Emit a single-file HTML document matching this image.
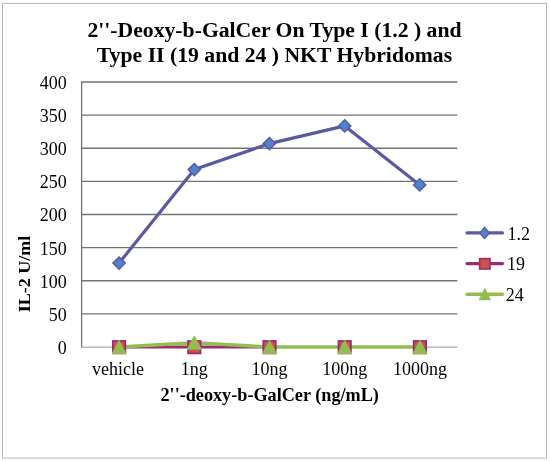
<!DOCTYPE html>
<html><head><meta charset="utf-8"><style>
html,body{margin:0;padding:0;background:#fff;width:550px;height:461px;overflow:hidden}
svg{display:block;will-change:transform}
text{font-family:"Liberation Serif",serif;fill:#000}
.t{font-weight:bold;font-size:21.7px}
.l{font-size:18px}
.a{font-weight:bold;font-size:18px}
</style></head><body>
<svg width="550" height="461" viewBox="0 0 550 461">
<rect x="0" y="0" width="550" height="461" fill="#fff"/>
<rect x="2.5" y="3.4" width="544" height="454.7" fill="none" stroke="#b6b6b6" stroke-width="1"/>
<!-- title -->
<text class="t" x="274.5" y="36.8" text-anchor="middle">2''-Deoxy-b-GalCer On Type I (1.2 ) and</text>
<text class="t" x="274.5" y="61.8" text-anchor="middle">Type II (19 and 24 ) NKT Hybridomas</text>
<!-- gridlines -->
<g stroke="#747474" stroke-width="1.3" fill="none">
<line x1="81" y1="82.00" x2="457.4" y2="82.00"/>
<line x1="81" y1="115.12" x2="457.4" y2="115.12"/>
<line x1="81" y1="148.25" x2="457.4" y2="148.25"/>
<line x1="81" y1="181.38" x2="457.4" y2="181.38"/>
<line x1="81" y1="214.50" x2="457.4" y2="214.50"/>
<line x1="81" y1="247.62" x2="457.4" y2="247.62"/>
<line x1="81" y1="280.75" x2="457.4" y2="280.75"/>
<line x1="81" y1="313.88" x2="457.4" y2="313.88"/>
<line x1="81.6" y1="81.4" x2="81.6" y2="347.5"/>
</g>
<line x1="81" y1="347.1" x2="457.4" y2="347.1" stroke="#ababab" stroke-width="1.2"/>
<!-- y labels -->
<g class="l" text-anchor="end">
<text x="66.7" y="88.55">400</text>
<text x="66.7" y="121.78">350</text>
<text x="66.7" y="155.01">300</text>
<text x="66.7" y="188.24">250</text>
<text x="66.7" y="221.47">200</text>
<text x="66.7" y="254.70">150</text>
<text x="66.7" y="287.93">100</text>
<text x="66.7" y="321.16">50</text>
<text x="66.7" y="354.39">0</text>
</g>
<!-- x labels -->
<g class="l" text-anchor="middle">
<text x="117.9" y="375.2">vehicle</text>
<text x="194.3" y="375.2">1ng</text>
<text x="269.5" y="375.2">10ng</text>
<text x="344.7" y="375.2">100ng</text>
<text x="419.9" y="375.2">1000ng</text>
</g>
<!-- axis titles -->
<text class="a" x="269.7" y="400.9" style="font-size:18.2px" text-anchor="middle">2''-deoxy-b-GalCer (ng/mL)</text>
<text class="a" x="0" y="0" text-anchor="middle" transform="translate(30.4 274.1) rotate(-90) scale(1 0.93)">IL-2 U/ml</text>
<!-- series 19 -->
<polyline points="119.1,347.1 194.3,347.1 269.5,347.1" fill="none" stroke="#9b2d6f" stroke-width="3" stroke-linejoin="round" stroke-linecap="round"/>
<!-- series 24 -->
<polyline points="119.1,347.0 194.3,342.8 269.5,347.0 344.7,347.0 419.9,347.0" fill="none" stroke="#93bc51" stroke-width="3.4" stroke-linejoin="round" stroke-linecap="round"/>
<!-- series 1.2 -->
<polyline points="119.1,263.1 194.3,169.6 269.4,143.6 344.7,125.9 419.7,184.9" fill="none" stroke="#5a5aa2" stroke-width="3.2" stroke-linejoin="round" stroke-linecap="round"/>
<!-- markers 1.2 -->
<g fill="#4b86c8" stroke="#5a5aa2" stroke-width="1.5">
<path d="M119.1,257.0 L125.2,263.1 L119.1,269.2 L113.0,263.1Z"/>
<path d="M194.3,163.5 L200.4,169.6 L194.3,175.7 L188.2,169.6Z"/>
<path d="M269.4,137.5 L275.5,143.6 L269.4,149.7 L263.3,143.6Z"/>
<path d="M344.7,119.8 L350.8,125.9 L344.7,132.0 L338.6,125.9Z"/>
<path d="M419.7,178.8 L425.8,184.9 L419.7,191.0 L413.6,184.9Z"/>
</g>
<!-- markers 19 -->
<g fill="#c9534c" stroke="#9b2d6f" stroke-width="1.8">
<rect x="112.9" y="341" width="12.4" height="12.4"/>
<rect x="188.1" y="341" width="12.4" height="12.4"/>
<rect x="263.3" y="341" width="12.4" height="12.4"/>
<rect x="338.5" y="341" width="12.4" height="12.4"/>
<rect x="413.7" y="341" width="12.4" height="12.4"/>
</g>
<!-- markers 24 -->
<g fill="#93bc51" stroke="#93bc51" stroke-width="1.5" stroke-linejoin="round">
<path d="M119.1,341 L125.6,353.3 L112.6,353.3Z"/>
<path d="M194.3,336.6 L200.8,348.9 L187.8,348.9Z"/>
<path d="M269.5,341 L276,353.3 L263,353.3Z"/>
<path d="M344.7,341 L351.2,353.3 L338.2,353.3Z"/>
<path d="M419.9,341 L426.4,353.3 L413.4,353.3Z"/>
</g>
<!-- legend -->
<line x1="467" y1="232.9" x2="502.5" y2="232.9" stroke="#5a5aa2" stroke-width="3.2" stroke-linecap="round"/>
<path d="M484.6,227.3 L489.4,232.9 L484.6,238.5 L479.8,232.9Z" fill="#4b86c8" stroke="#5a5aa2" stroke-width="1.3"/>
<line x1="467" y1="263.6" x2="502.5" y2="263.6" stroke="#9b2d6f" stroke-width="3.2" stroke-linecap="round"/>
<rect x="479.6" y="258.6" width="10.4" height="10.4" fill="#c9534c" stroke="#9b2d6f" stroke-width="1.6"/>
<line x1="467" y1="294.2" x2="502.5" y2="294.2" stroke="#93bc51" stroke-width="3.4" stroke-linecap="round"/>
<path d="M484.8,289 L490,299.5 L479.6,299.5Z" fill="#93bc51" stroke="#93bc51" stroke-width="1.3" stroke-linejoin="round"/>
<g class="l">
<text x="507.5" y="239.6">1.2</text>
<text x="506.9" y="270.2">19</text>
<text x="505.8" y="300.8">24</text>
</g>
</svg>
</body></html>
